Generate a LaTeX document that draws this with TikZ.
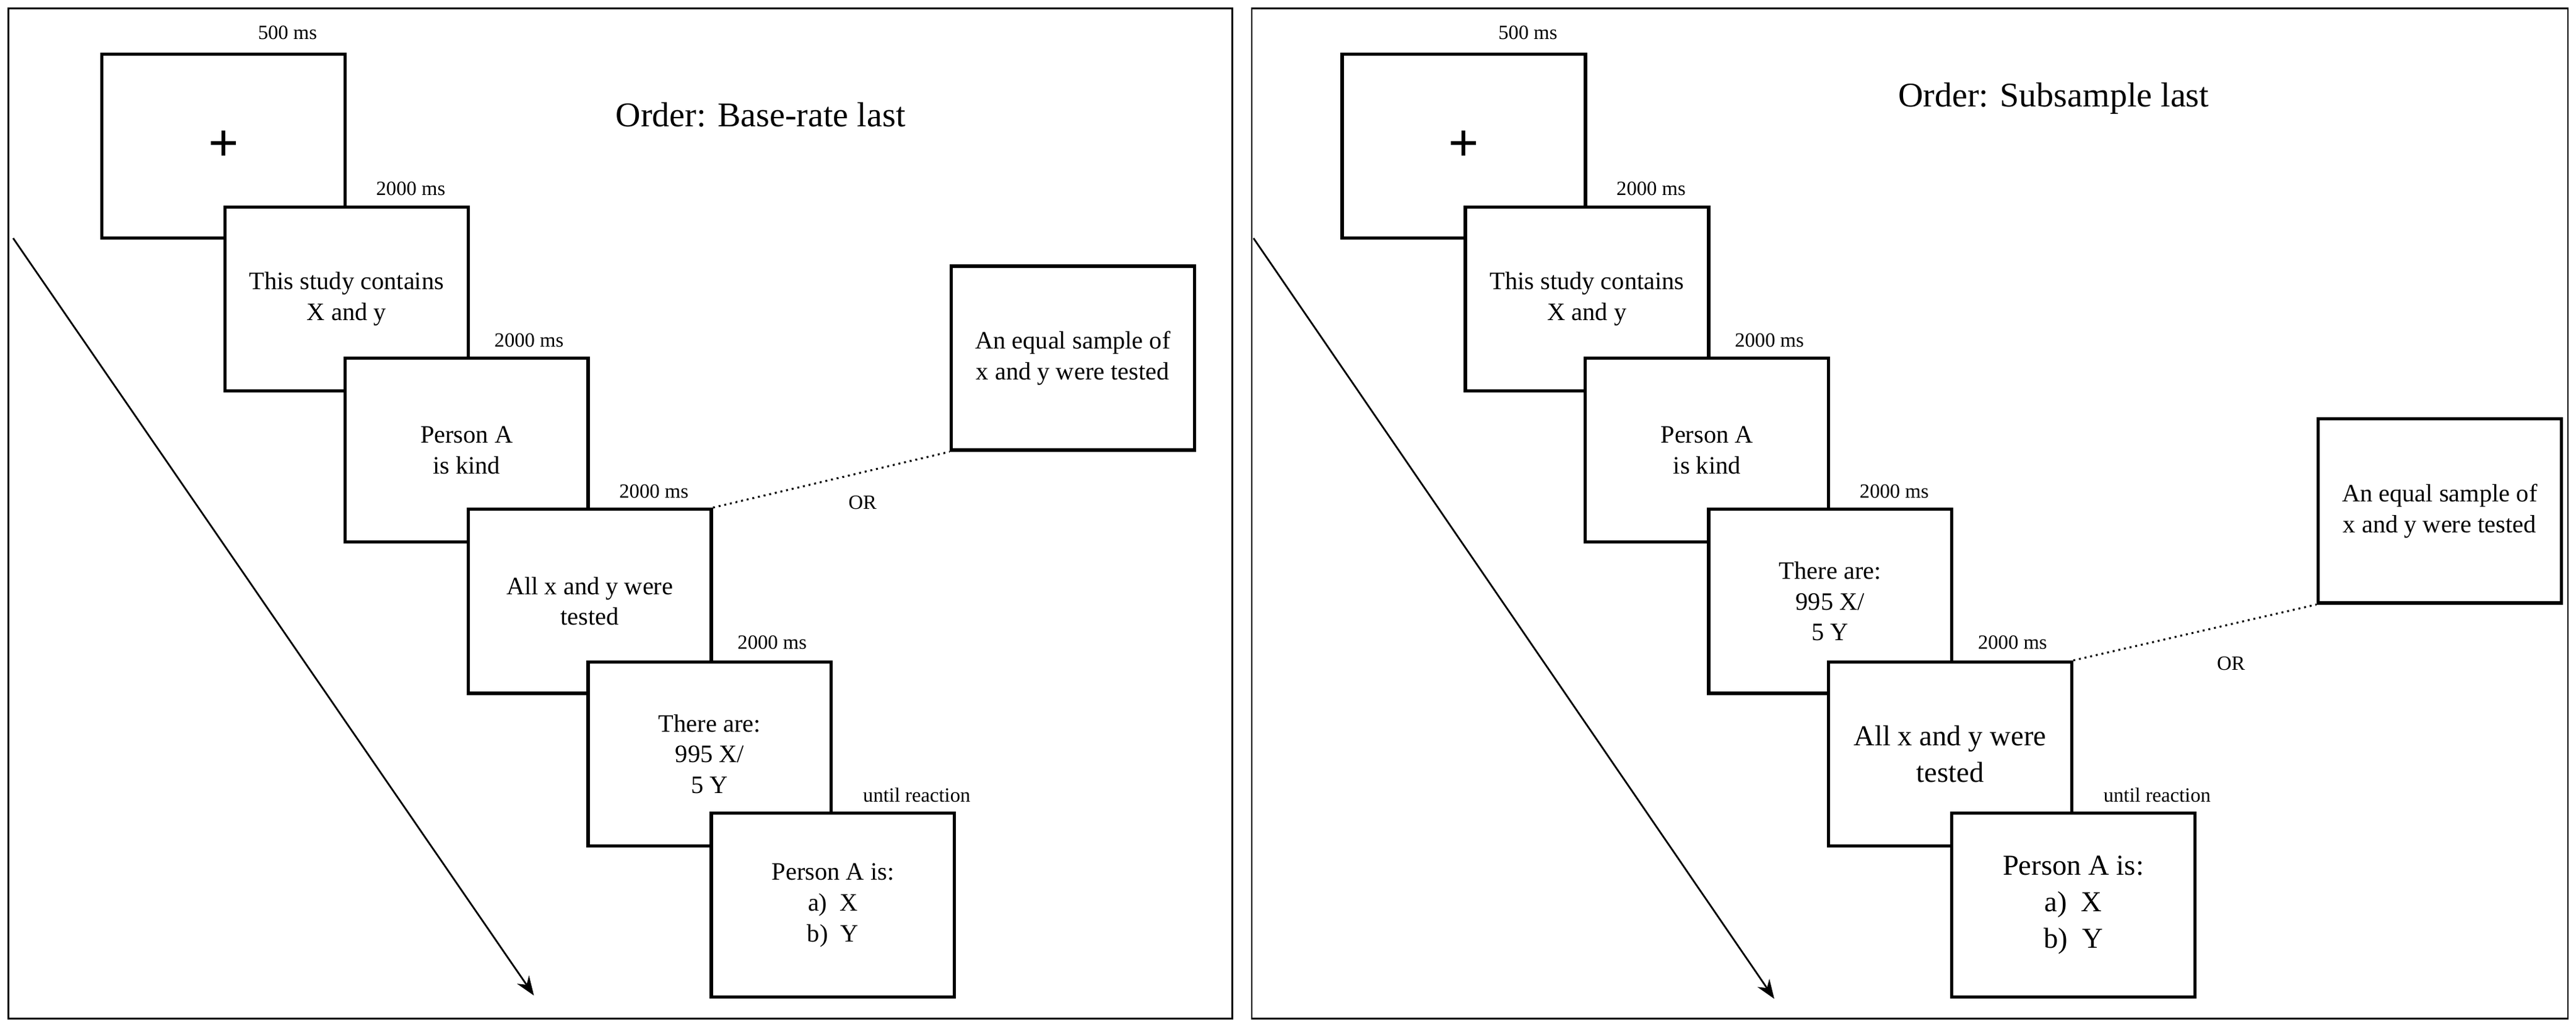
\documentclass[tikz,border=0pt]{standalone}
\usepackage{fontspec}
\setmainfont{Liberation Serif}
\usetikzlibrary{arrows.meta}
\begin{document}
\begin{tikzpicture}[x=0.03cm,y=-0.03cm,
  screen/.style={draw=black,line width=1.7pt,fill=white,minimum width=4.44cm,minimum height=3.36cm,align=center,inner sep=0pt,font=\fontsize{13}{16}\selectfont},
  big/.style={font=\fontsize{15}{19}\selectfont},
  timing/.style={font=\fontsize{10.5}{12}\selectfont,inner sep=1pt},
  title/.style={font=\fontsize{18}{22}\selectfont}]
\useasboundingbox (0,0) rectangle (1568,625);

%frames
\draw[line width=0.8pt] (5,5) rectangle (750,620);
\draw[line width=0.8pt] (762,5) rectangle (1563,620);

%left panel
\node[title] (t1) at (463,70) {Order: Base-rate last};
\coordinate (a1) at (8,145);
\coordinate (a2) at (325,606);
\draw[line width=0.9pt,-{Stealth[length=10pt]}] (a1) -- (a2);
\node[screen] (l1) at (136,89) {\fontsize{28}{30}\selectfont\bfseries +};
\node[screen] (l2) at (211,182) {This study contains\\X and y};
\node[screen] (l3) at (284,274) {Person A\\is kind};
\node[screen] (l4) at (359,366) {All x and y were\\tested};
\node[screen] (l5) at (432,459) {There are:\\995 X/\\5 Y};
\node[screen] (l6) at (507,551) {Person A is:\\a)\enspace X\\b)\enspace Y};
\node[screen] (ls) at (653,218) {An equal sample of\\x and y were tested};
\node[timing] at (175,20) {500 ms};
\node[timing] at (250,115) {2000 ms};
\node[timing] at (322,207) {2000 ms};
\node[timing] at (398,299) {2000 ms};
\node[timing] at (470,391) {2000 ms};
\node[timing] at (558,484) {until reaction};
\draw[line width=1pt,dotted] (l4.north east) -- (ls.south west);
\node[timing] at (525,306) {OR};

%right panel
\node[title] (t2) at (1250,60) {Order: Subsample last};
\coordinate (b1) at (763,145);
\coordinate (b2) at (1080,608);
\draw[line width=0.9pt,-{Stealth[length=10pt]}] (b1) -- (b2);
\node[screen] (r1) at (891,89) {\fontsize{28}{30}\selectfont\bfseries +};
\node[screen] (r2) at (966,182) {This study contains\\X and y};
\node[screen] (r3) at (1039,274) {Person A\\is kind};
\node[screen] (r4) at (1114,366) {There are:\\995 X/\\5 Y};
\node[screen,big] (r5) at (1187,459) {All x and y were\\tested};
\node[screen,big] (r6) at (1262,551) {Person A is:\\a)\enspace X\\b)\enspace Y};
\node[screen] (rs) at (1485,311) {An equal sample of\\x and y were tested};
\node[timing] at (930,20) {500 ms};
\node[timing] at (1005,115) {2000 ms};
\node[timing] at (1077,207) {2000 ms};
\node[timing] at (1153,299) {2000 ms};
\node[timing] at (1225,391) {2000 ms};
\node[timing] at (1313,484) {until reaction};
\draw[line width=1pt,dotted] (r5.north east) -- (rs.south west);
\node[timing] at (1358,404) {OR};
\end{tikzpicture}
\end{document}
